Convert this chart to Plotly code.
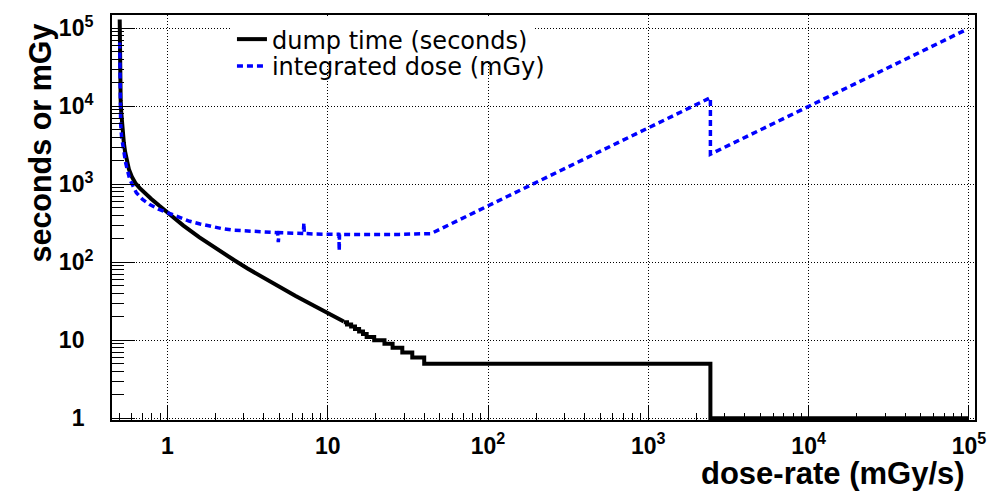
import plotly.graph_objects as go

# dump time vs dose-rate: smooth part of the curve (mGy/s, seconds)
rate_smooth = [0.5040, 0.5048, 0.506, 0.508, 0.511, 0.515, 0.52, 0.527, 0.535, 0.545,
               0.558, 0.575, 0.6, 0.631, 0.67, 0.708, 0.794, 0.891, 1.0, 1.259,
               1.585, 1.995, 2.6, 3.162, 3.98, 5.01, 6.31, 7.94, 10.0, 12.59]
time_smooth = [130000, 60000, 30000, 18000, 12000, 8500, 6200, 4500, 3400, 2600,
               2000, 1560, 1250, 1040, 900, 800, 650, 530, 431, 296,
               209, 151, 107, 83.3, 63, 48.1, 37, 28.7, 22.3, 17.4]

# dump time where it falls in whole-second steps
rate_steps = [12.59, 13.2, 14.0, 14.8, 15.7, 16.6, 17.5, 19.5, 22.6, 25.4,
              29.2, 33.7, 40.0, 2440, 100000]
time_steps = [17, 16, 15, 14, 13, 12, 11, 10, 9, 8,
              7, 6, 5, 1, 1]

# integrated dose vs dose-rate (mGy/s, mGy)
rate_dose = [0.5040, 0.5052, 0.507, 0.511, 0.518, 0.529, 0.55, 0.582, 0.64, 0.70,
             0.776, 0.88, 1.0, 1.18, 1.377, 1.6, 1.83, 2.2, 2.6, 3.26,
             3.9, 4.5, 4.87, 4.92, 4.97, 5.6, 6.3, 7.05, 7.1, 7.15,
             8.5, 10.0, 11.75, 11.8, 11.85, 14.0, 17.0, 22.0, 28.0, 35.0,
             44.0, 2440, 2440, 95000]
dose = [66000, 24000, 11000, 6000, 4000, 3000, 1850, 1155, 780, 640,
        551, 480, 431, 375, 336, 310, 290, 270, 258, 250,
        245, 241, 240, 182, 240, 238, 236, 234, 322, 234,
        230, 228, 228, 140, 228, 227, 226, 226, 228, 231,
        233, 12900, 2430, 95000]

decades = [1, 10, 100, 1000, 10000, 100000]
x_labels = ["1", "10", "10<sup>2</sup>", "10<sup>3</sup>", "10<sup>4</sup>", "10<sup>5</sup>"]
# blank superscript keeps the digits of every label right-aligned together
y_labels = ["1<sup>\u00a0\u00a0</sup>", "10<sup>\u00a0\u00a0</sup>", "10<sup>2</sup>",
            "10<sup>3</sup>", "10<sup>4</sup>", "10<sup>5</sup>"]

minor_x = [m * 10.0 ** e for e in range(-1, 5) for m in range(2, 10)]
minor_y = [m * 10.0 ** e for e in range(0, 5) for m in range(2, 10)]

FONT = "Liberation Sans, Arial, Helvetica, sans-serif"
LEGEND_FONT = dict(family="DejaVu Sans", size=24, color="#000000")

fig = go.Figure()
fig.add_trace(go.Scatter(
    x=rate_smooth, y=time_smooth, mode="lines", name="dump time (seconds)",
    line=dict(color="#000000", width=4), legendgroup="t", legend="legend"))
fig.add_trace(go.Scatter(
    x=rate_steps, y=time_steps, mode="lines", showlegend=False,
    line=dict(color="#000000", width=4, shape="hv"), legendgroup="t", legend="legend"))
fig.add_trace(go.Scatter(
    x=rate_dose, y=dose, mode="lines", name="integrated dose (mGy)",
    line=dict(color="#0000ff", width=3.5, dash="6px,4px"), legend="legend2"))

axis_common = dict(
    type="log", tickmode="array", tickvals=decades,
    ticks="inside", tickwidth=1, tickcolor="#000000",
    showline=True, linecolor="#000000", linewidth=2, mirror=True,
    showgrid=True, gridcolor="#000000", gridwidth=1, griddash="1px,2px",
    zeroline=False,
    tickfont=dict(family=FONT, size=23, color="#000000", weight="bold"),
)

fig.update_xaxes(
    **axis_common, ticktext=x_labels, range=[-0.3456, 5.038], ticklen=14,
    ticklabelstandoff=4,
    minor=dict(tickmode="array", tickvals=minor_x, ticks="inside", ticklen=7,
               tickwidth=1, tickcolor="#000000", showgrid=False),
)
fig.update_yaxes(
    **axis_common, ticktext=y_labels, range=[-0.022, 5.171], ticklen=23,
    ticklabelstandoff=12,
    minor=dict(tickmode="array", tickvals=minor_y, ticks="inside", ticklen=12,
               tickwidth=1, tickcolor="#000000", showgrid=False),
)

fig.update_layout(
    width=1007, height=494,
    margin=dict(l=112, r=32, t=15, b=74),
    paper_bgcolor="#ffffff", plot_bgcolor="#ffffff",
    font=dict(family=FONT, color="#000000"),
    legend=dict(x=0.139, y=0.995, xanchor="left", yanchor="top",
                bgcolor="#ffffff", borderwidth=0, font=LEGEND_FONT),
    legend2=dict(x=0.139, y=0.9284, xanchor="left", yanchor="top",
                 bgcolor="rgba(255,255,255,0)", borderwidth=0, font=LEGEND_FONT),
    annotations=[
        dict(text="dose-rate (mGy/s)", xref="paper", yref="paper",
             x=0.9907, y=-0.1309, xanchor="right", yanchor="middle", showarrow=False,
             font=dict(family=FONT, size=31, color="#000000", weight="bold")),
        dict(text="seconds or mGy", xref="paper", yref="paper", textangle=-90,
             x=-0.0823, y=0.685, xanchor="center", yanchor="middle", showarrow=False,
             font=dict(family=FONT, size=30.5, color="#000000", weight="bold")),
    ],
)

fig.write_html("out.html")
